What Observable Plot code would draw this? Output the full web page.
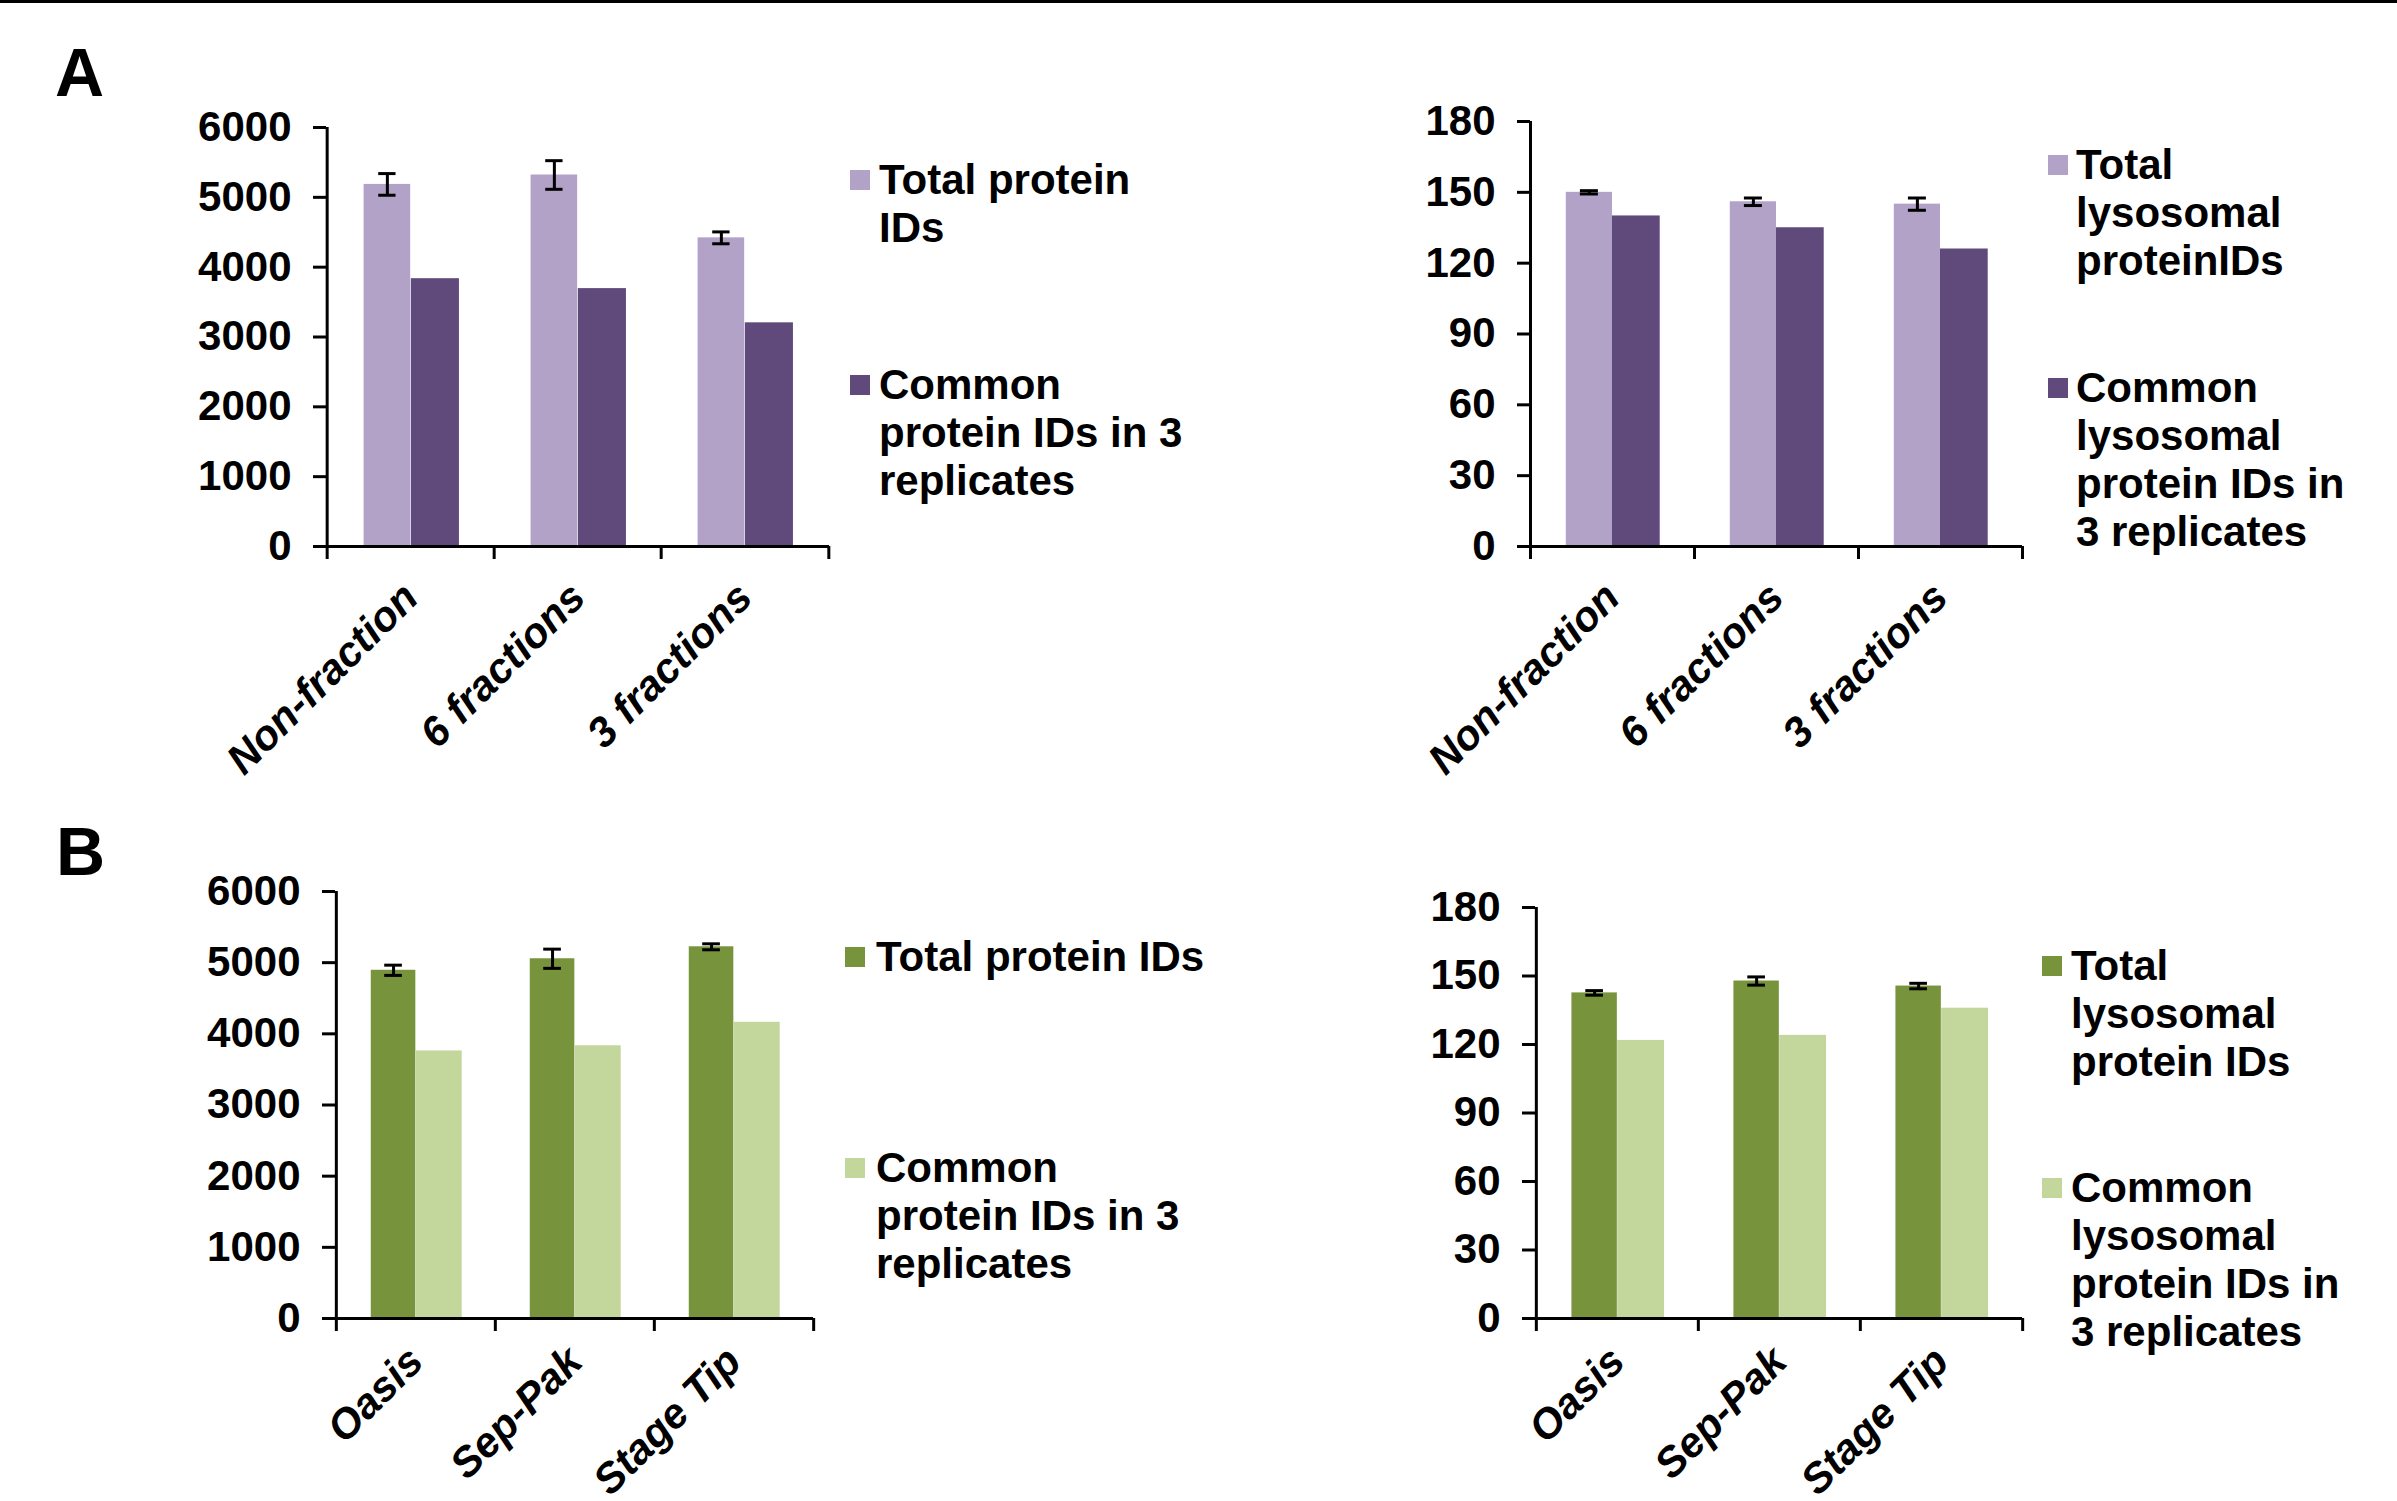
<!DOCTYPE html>
<html><head><meta charset="utf-8">
<script src="https://cdn.jsdelivr.net/npm/d3@7"></script>
<script src="https://cdn.jsdelivr.net/npm/@observablehq/plot@0.6"></script>
<style>
html,body{margin:0;padding:0;background:#fff;}
body{width:2397px;height:1501px;position:relative;overflow:hidden;font-family:"Liberation Sans",Arial,sans-serif;color:#000;}
.topline{position:absolute;left:0;top:0;width:2397px;height:3px;background:#000;}
.panel-label{position:absolute;font-weight:bold;font-size:68px;line-height:68px;}
.legend{position:absolute;font-weight:bold;font-size:42px;line-height:48px;white-space:nowrap;}
.sw{position:absolute;width:20px;height:20px;}
</style></head><body>
<div class="topline"></div>
<script>
// ---- data ----
const catsFrac = ["Non-fraction", "6 fractions", "3 fractions"];
const catsSpe = ["Oasis", "Sep-Pak", "Stage Tip"];

const fracTotal = [5185, 5320, 4420];
const fracTotalErr = [155, 205, 85];
const fracCommon = [3835, 3693, 3203];

const fracLysoTotal = [150, 146, 145];
const fracLysoTotalErr = [0.7, 1.6, 2.6];
const fracLysoCommon = [140, 135, 126];

const speTotal = [4893, 5055, 5223];
const speTotalErr = [72, 135, 42];
const speCommon = [3760, 3832, 4162];

const speLysoTotal = [142.6, 147.8, 145.6];
const speLysoTotalErr = [1.0, 1.8, 1.2];
const speLysoCommon = [121.8, 124.0, 135.9];

const ticksProtein = [0, 1000, 2000, 3000, 4000, 5000, 6000];
const ticksLyso = [0, 30, 60, 90, 120, 150, 180];

const purple = ["#b3a2c7", "#604a7b"];
const green = ["#77933c", "#c3d69b"];

const legFracTotal = ["Total protein", "IDs"];
const legFracCommon = ["Common", "protein IDs in 3", "replicates"];
const legFracLysoTotal = ["Total", "lysosomal", "proteinIDs"];
const legFracLysoCommon = ["Common", "lysosomal", "protein IDs in", "3 replicates"];
const legSpeTotal = ["Total protein IDs"];
const legSpeCommon = ["Common", "protein IDs in 3", "replicates"];
const legSpeLysoTotal = ["Total", "lysosomal", "protein IDs"];
const legSpeLysoCommon = ["Common", "lysosomal", "protein IDs in", "3 replicates"];

// ---- drawing ----
function panel(cfg) {
  const {cats, total, err, common, yMax, ticks, colors, fx0, fx1, fy0, fy1, pad} = cfg;
  const mL = 140, mR = 20, mT = 30, mB = 280;
  const fw = fx1 - fx0, fh = fy1 - fy0, bw = fw / cats.length;
  const rows = cats.map((c, i) => ({cat: c, total: total[i], err: err[i], common: common[i]}));
  const off = -bw * 15.5 / 110;
  const blk = {stroke: "#000", strokeWidth: 3};
  const cap = {dx: off, insetLeft: bw / 2 - 9, insetRight: bw / 2 - 9, stroke: "#000", strokeWidth: 3};
  const p = Plot.plot({
    width: mL + fw + mR, height: mT + fh + mB,
    marginLeft: mL, marginRight: mR, marginTop: mT, marginBottom: mB,
    style: {fontFamily: "'Liberation Sans', Arial, sans-serif", fontSize: "42px", fontWeight: "bold", color: "#000", background: "transparent", overflow: "visible"},
    x: {type: "band", domain: cats, padding: 0},
    y: {domain: [0, yMax]},
    marks: [
      Plot.barY(rows, {x: "cat", y: "total", fill: colors[0], insetLeft: bw * 24 / 110, insetRight: bw / 2}),
      Plot.barY(rows, {x: "cat", y: "common", fill: colors[1], insetLeft: bw / 2, insetRight: bw * 23 / 110}),
      Plot.ruleX(rows, {x: "cat", y1: d => d.total - d.err, y2: d => d.total + d.err, dx: off, stroke: "#000", strokeWidth: 3}),
      Plot.tickY(rows, {x: "cat", y: d => d.total + d.err, ...cap}),
      Plot.tickY(rows, {x: "cat", y: d => d.total - d.err, ...cap}),
      Plot.ruleY([0], blk),
      Plot.ruleX([cats[0]], {y1: 0, y2: yMax, dx: -bw / 2, ...blk}),
      Plot.ruleX(cats, {y1: 0, y2: 0, dx: -bw / 2, insetBottom: -13, ...blk}),
      Plot.ruleX([cats[cats.length - 1]], {y1: 0, y2: 0, dx: bw / 2, insetBottom: -13, ...blk}),
      Plot.axisY({ticks, tickFormat: d3.format("d"), tickSize: 13, tickPadding: 22, strokeWidth: 3, fontSize: 42, fontWeight: "bold", label: null}),
      Plot.axisX({tickSize: 0, tickRotate: -45, tickPadding: pad, fontSize: 42, fontStyle: "italic", fontWeight: "bold", label: null})
    ]
  });
  p.style.position = "absolute";
  p.style.left = (fx0 - mL) + "px";
  p.style.top = (fy0 - mT) + "px";
  document.body.appendChild(p);
}

function legend(lines, color, swX, textX, y) {
  const sw = document.createElement("div");
  sw.className = "sw";
  sw.style.background = color;
  sw.style.left = swX + "px";
  sw.style.top = (y - 10) + "px";
  document.body.appendChild(sw);
  const t = document.createElement("div");
  t.className = "legend";
  t.style.left = textX + "px";
  t.style.top = (y - 24) + "px";
  t.innerHTML = lines.join("<br>");
  document.body.appendChild(t);
}

function label(txt, x, y) {
  const d = document.createElement("div");
  d.className = "panel-label";
  d.textContent = txt;
  d.style.left = x + "px";
  d.style.top = y + "px";
  document.body.appendChild(d);
}

label("A", 55, 38);
label("B", 56, 817);

panel({cats: catsFrac, total: fracTotal, err: fracTotalErr, common: fracCommon, yMax: 6000, ticks: ticksProtein, colors: purple, fx0: 326, fx1: 829, fy0: 127, fy1: 546, pad: 44});
panel({cats: catsFrac, total: fracLysoTotal, err: fracLysoTotalErr, common: fracLysoCommon, yMax: 180, ticks: ticksLyso, colors: purple, fx0: 1530, fx1: 2022, fy0: 121, fy1: 546, pad: 44});
panel({cats: catsSpe, total: speTotal, err: speTotalErr, common: speCommon, yMax: 6000, ticks: ticksProtein, colors: green, fx0: 335, fx1: 813, fy0: 891, fy1: 1318, pad: 36});
panel({cats: catsSpe, total: speLysoTotal, err: speLysoTotalErr, common: speLysoCommon, yMax: 180, ticks: ticksLyso, colors: green, fx0: 1535, fx1: 2022, fy0: 907, fy1: 1318, pad: 36});

legend(legFracTotal, purple[0], 850, 879, 180);
legend(legFracCommon, purple[1], 850, 879, 385);
legend(legFracLysoTotal, purple[0], 2048, 2076, 165);
legend(legFracLysoCommon, purple[1], 2048, 2076, 388);
legend(legSpeTotal, green[0], 845, 876, 957);
legend(legSpeCommon, green[1], 845, 876, 1168);
legend(legSpeLysoTotal, green[0], 2042, 2071, 966);
legend(legSpeLysoCommon, green[1], 2042, 2071, 1188);
</script>
</body></html>
